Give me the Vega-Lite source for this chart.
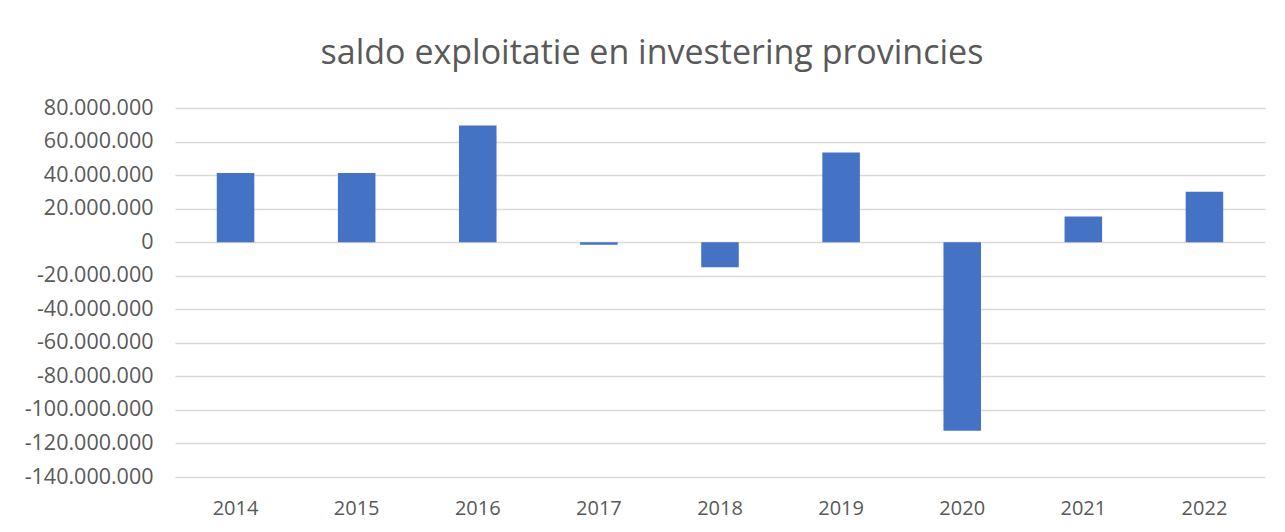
{
  "$schema": "https://vega.github.io/schema/vega-lite/v6.json",
  "autosize": "none",
  "width": 1090,
  "height": 369,
  "padding": {"left": 175, "top": 108, "right": 20, "bottom": 55},
  "background": "white",
  "title": {
    "text": "saldo exploitatie en investering provincies",
    "font": "Open Sans",
    "fontSize": 34,
    "fontWeight": "normal",
    "color": "#595959",
    "anchor": "middle",
    "dx": -68,
    "baseline": "bottom",
    "offset": -8
  },
  "data": {
    "values": [
      {"jaar": "2014", "saldo": 41200000},
      {"jaar": "2015", "saldo": 41200000},
      {"jaar": "2016", "saldo": 69500000},
      {"jaar": "2017", "saldo": -1500000},
      {"jaar": "2018", "saldo": -14900000},
      {"jaar": "2019", "saldo": 53500000},
      {"jaar": "2020", "saldo": -112400000},
      {"jaar": "2021", "saldo": 15300000},
      {"jaar": "2022", "saldo": 30100000}
    ]
  },
  "mark": {"type": "bar", "color": "#4472C4"},
  "encoding": {
    "x": {
      "field": "jaar",
      "type": "ordinal",
      "scale": {"paddingInner": 0.69, "paddingOuter": 0.345},
      "axis": {
        "title": null,
        "labelAngle": 0,
        "domain": false,
        "ticks": false,
        "labelPadding": 21,
        "labelFont": "Open Sans",
        "labelFontSize": 20,
        "labelColor": "#595959"
      }
    },
    "y": {
      "field": "saldo",
      "type": "quantitative",
      "scale": {"domain": [-140000000, 80000000], "nice": false, "zero": true},
      "axis": {
        "title": null,
        "values": [-140000000, -120000000, -100000000, -80000000, -60000000, -40000000, -20000000, 0, 20000000, 40000000, 60000000, 80000000],
        "format": ",d",
        "domain": false,
        "ticks": false,
        "labelPadding": 22,
        "labelFont": "Open Sans",
        "labelFontSize": 21.5,
        "labelColor": "#595959",
        "gridColor": "#d9d9d9",
        "gridWidth": 1.3
      }
    }
  },
  "config": {
    "view": {"stroke": null},
    "locale": {
      "number": {"decimal": ",", "thousands": ".", "grouping": [3], "currency": ["€", ""], "minus": "-"}
    }
  }
}
